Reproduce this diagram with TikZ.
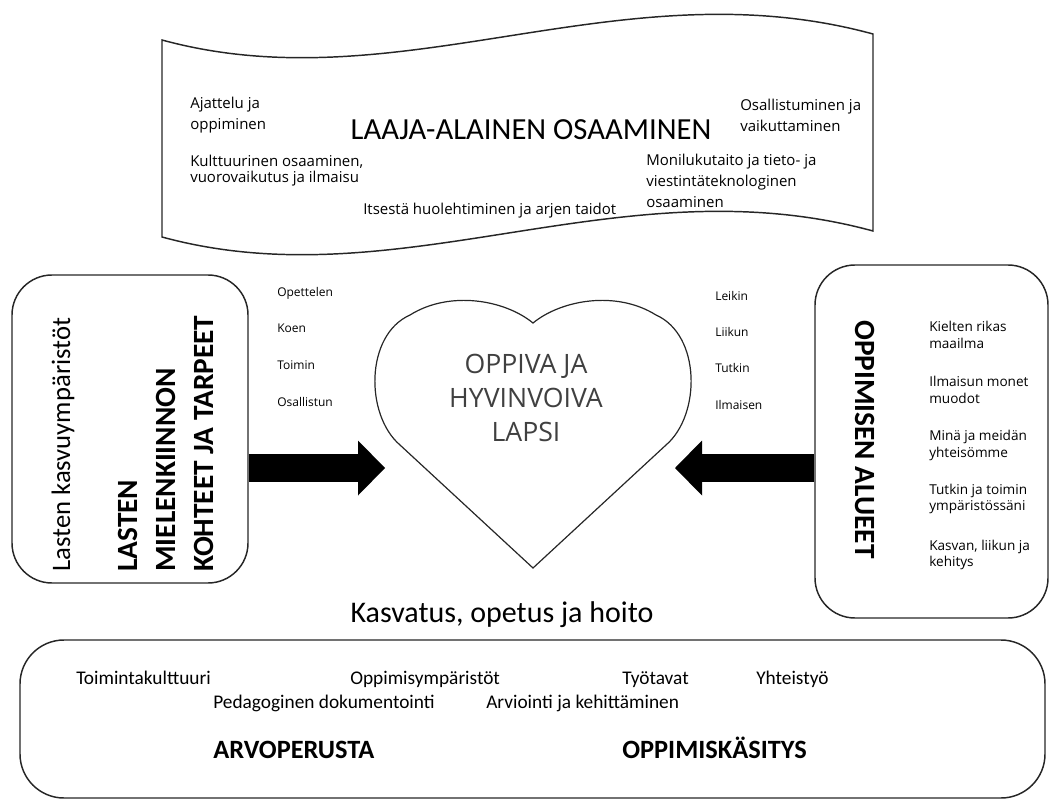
\documentclass[tikz,border=0pt]{standalone}
\usepackage{fontspec}
\setmainfont{Carlito}
\newfontfamily\segoe{Open Sans}
\usetikzlibrary{arrows.meta}

\tikzset{
	outline/.style={draw=black!85, line width=1.1pt},
	panel/.style={outline, rounded corners=30pt, inner sep=0pt},
	bigarrow/.style={line width=21pt, -{Triangle[width=41.25pt, length=20.25pt, line width=0pt]}},
	bannertxt/.style={anchor=west, inner sep=0pt, align=left, font=\segoe\fontsize{11.25}{15.75}\selectfont},
	actlabel/.style={anchor=base west, inner sep=0pt, font=\segoe\fontsize{9}{10}\selectfont},
	areatxt/.style={anchor=west, inner sep=0pt, align=left, font=\segoe\fontsize{10.2}{12.4}\selectfont},
	basetxt/.style={anchor=base west, inner sep=0pt, font=\fontsize{14.5}{16}\selectfont},
	basetitle/.style={anchor=base west, inner sep=0pt, font=\bfseries\fontsize{19.8}{22}\selectfont},
	sidetitle/.style={anchor=base west, inner sep=0pt, font=\bfseries\fontsize{22}{26}\selectfont},
}

\begin{document}
\begin{tikzpicture}[x=0.75pt, y=-0.75pt]
			%%%%% START %%%%%
			\useasboundingbox (0,0) rectangle (1052,802);
			
			% banner
			\draw[outline] (162,40) .. controls (400,105) and (620,-35) .. (873,34) -- (873,231) .. controls (620,162) and (400,302) .. (162,237) -- cycle;
			\node[inner sep=0pt, font=\fontsize{23}{26}\selectfont] (laaja) at (531,130) {LAAJA-ALAINEN OSAAMINEN};
			\node[bannertxt] (ajattelu) at (190,115.5) {Ajattelu ja\\oppiminen};
			\node[bannertxt, font=\segoe\fontsize{11.25}{12}\selectfont] (kulttuuri) at (190,170.5) {Kulttuurinen osaaminen,\\vuorovaikutus ja ilmaisu};
			\node[bannertxt, anchor=base west] (itsesta) at (363,215) {Itsestä huolehtiminen ja arjen taidot};
			\node[bannertxt] (osallistuminen) at (740,115.5) {Osallistuminen ja\\vaikuttaminen};
			\node[bannertxt] (monilukutaito) at (646,181) {Monilukutaito ja tieto- ja\\viestintäteknologinen\\osaaminen};
			
			% left box
			\node[panel, minimum width=177pt, minimum height=231pt] (lbox) at (130,429) {};
			\node[sidetitle, rotate=90, font=\fontsize{20}{24}\selectfont] (kasvuymp) at (70,572) {Lasten kasvuympäristöt};
			\node[sidetitle, rotate=90] (lasten) at (137,572) {LASTEN};
			\node[sidetitle, rotate=90] (mielenk) at (175,572) {MIELENKIINNON};
			\node[sidetitle, rotate=90] (kohteet) at (213,572) {KOHTEET JA TARPEET};
			
			\node[actlabel] (opettelen) at (277,296.5) {Opettelen};
			\node[actlabel] (koen) at (277,332.5) {Koen};
			\node[actlabel] (toimin) at (277,369) {Toimin};
			\node[actlabel] (osallistun) at (277,406) {Osallistun};
			
			% heart
			\draw[draw=black!85, line width=0.9pt] (533,568) -- (400,445) .. controls (365,415) and (365,335) .. (410,315) .. controls (450,290) and (505,300) .. (533,323) .. controls (561,300) and (616,290) .. (656,315) .. controls (701,335) and (701,415) .. (666,445) -- cycle;
			\node[inner sep=0pt, align=center, text=black!75, font=\segoe\fontsize{20}{25.5}\selectfont] (heart) at (526,398) {OPPIVA JA\\HYVINVOIVA\\LAPSI};
			
			\node[actlabel] (leikin) at (715,300) {Leikin};
			\node[actlabel] (liikun) at (715,336.5) {Liikun};
			\node[actlabel] (tutkin) at (715,372.5) {Tutkin};
			\node[actlabel] (ilmaisen) at (715,409) {Ilmaisen};
			
			% right box
			\node[panel, minimum width=174.75pt, minimum height=264.75pt] (rbox) at (931.5,441.5) {};
			\node[sidetitle, rotate=-90] (alueet) at (855,320) {OPPIMISEN ALUEET};
			\node[areatxt] (kielten) at (929,335) {Kielten rikas\\maailma};
			\node[areatxt] (ilmaisun) at (929,390) {Ilmaisun monet\\muodot};
			\node[areatxt] (mina) at (929,445.5) {Minä ja meidän\\yhteisömme};
			\node[areatxt] (tutkinja) at (929,499) {Tutkin ja toimin\\ympäristössäni};
			\node[areatxt] (kasvan) at (929,555) {Kasvan, liikun ja\\kehitys};
			
			% arrows
			\coordinate (ltip) at (385,468);
			\coordinate (rtip) at (675,468);
			\draw[bigarrow] (lbox.east |- ltip) -- (ltip);
			\draw[bigarrow] (rbox.west |- rtip) -- (rtip);
			
			\node[inner sep=0pt, font=\fontsize{22.5}{26}\selectfont] (kasvatus) at (502,615) {Kasvatus, opetus ja hoito};
			
			% bottom box
			\node[panel, rounded corners=33pt, minimum width=768.75pt, minimum height=118.5pt] (bbox) at (532.5,719) {};
			\node[basetxt] (toiminta) at (76,684) {Toimintakulttuuri};
			\node[basetxt] (oppimisymp) at (350,684) {Oppimisympäristöt};
			\node[basetxt] (tyotavat) at (622,684) {Työtavat};
			\node[basetxt] (yhteistyo) at (756,684) {Yhteistyö};
			\node[basetxt] (pedagoginen) at (213,708) {Pedagoginen dokumentointi};
			\node[basetxt] (arviointi) at (486,708) {Arviointi ja kehittäminen};
			\node[basetitle] (arvoperusta) at (213,758) {ARVOPERUSTA};
			\node[basetitle] (kasitys) at (622,758) {OPPIMISKÄSITYS};
			
			%%%%% END %%%%%
\end{tikzpicture}
\end{document}
